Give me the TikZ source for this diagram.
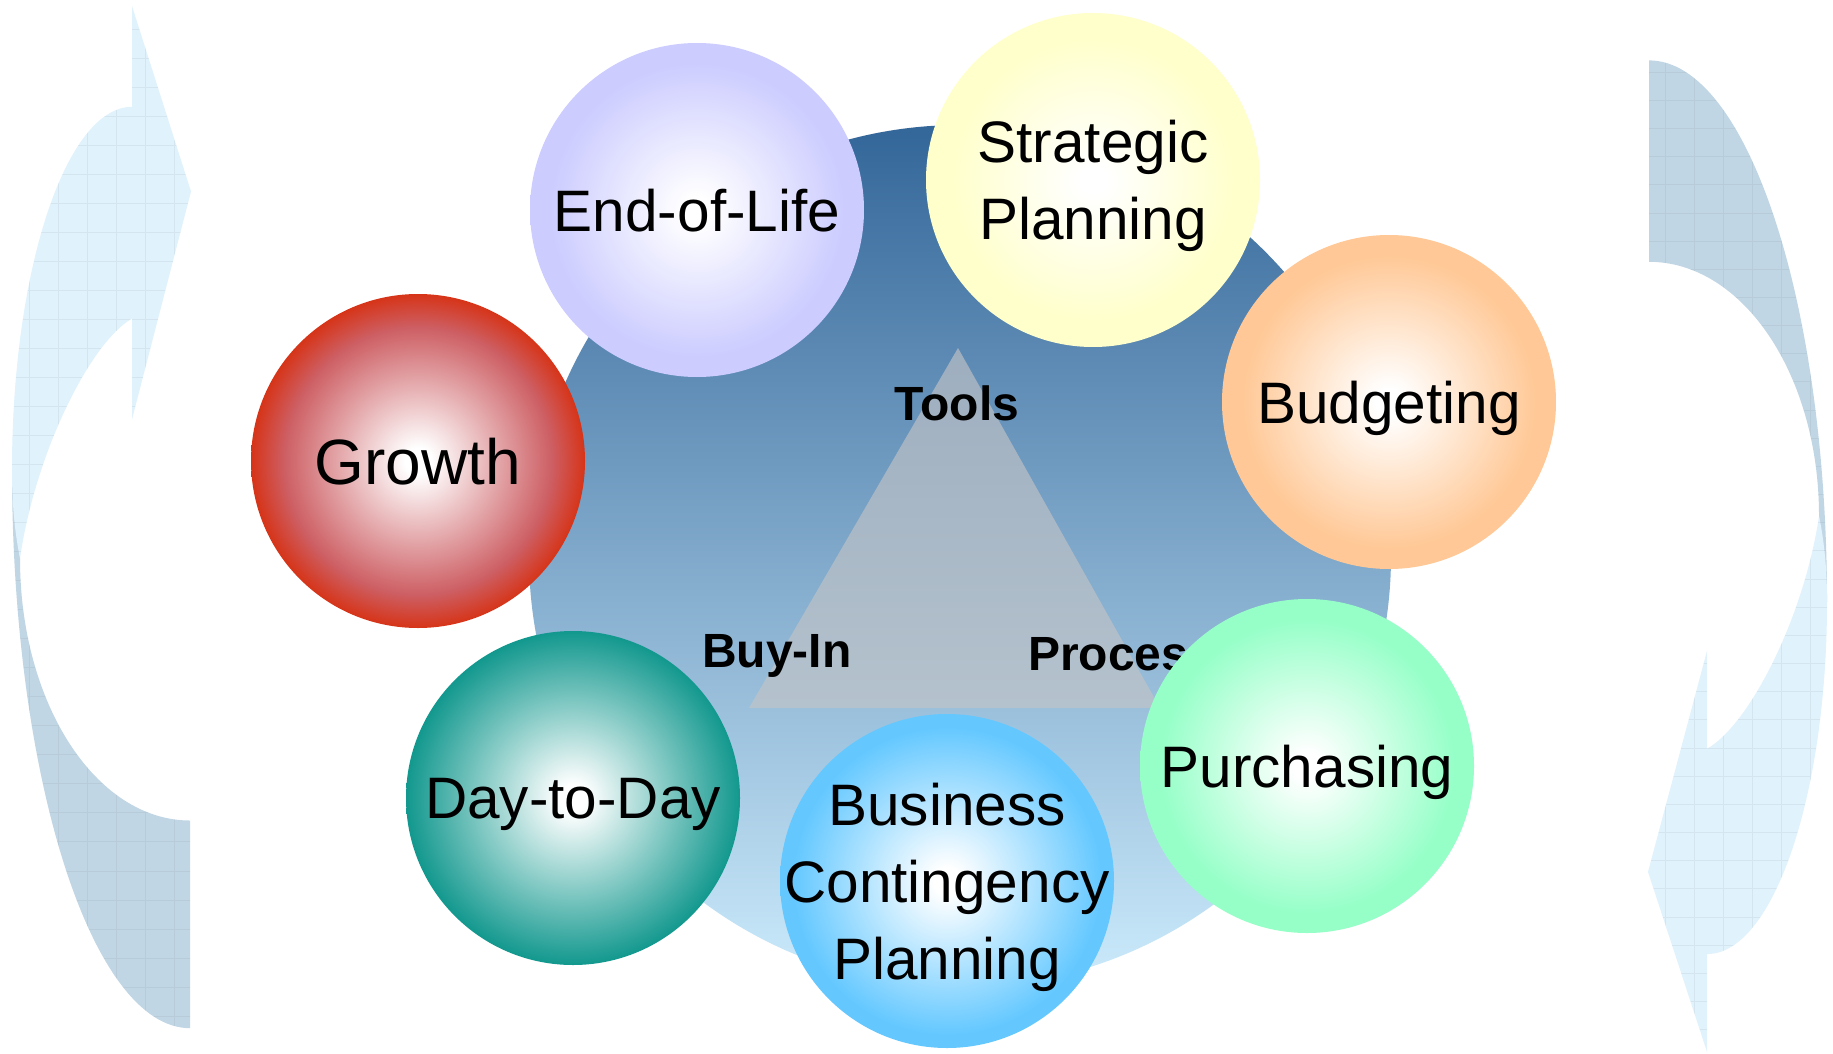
\documentclass[tikz,border=0pt]{standalone}
\usepackage{fontspec}
\setmainfont{Liberation Sans}
\definecolor{bgtop}{RGB}{51,102,153}
\definecolor{bgbot}{RGB}{204,235,252}
\definecolor{arrdark}{RGB}{193,214,228}
\definecolor{arrlight}{RGB}{224,242,252}
\definecolor{trigray}{RGB}{196,196,198}
\definecolor{cGrowth}{RGB}{214,52,24}
\definecolor{cGrowthMid}{RGB}{205,95,100}
\definecolor{cDay}{RGB}{18,152,142}
\definecolor{cBiz}{RGB}{100,200,255}
\definecolor{cPurch}{RGB}{150,255,200}
\definecolor{cBudget}{RGB}{255,200,150}
\definecolor{cEnd}{RGB}{204,204,255}
\definecolor{cStrat}{RGB}{255,255,204}
\pgfdeclareradialshading{shGrowth}{\pgfpoint{0bp}{0bp}}{color(0bp)=(white); color(2bp)=(white); color(20bp)=(cGrowthMid); color(25bp)=(cGrowth); color(50bp)=(cGrowth)}
\pgfdeclareradialshading{shDay}{\pgfpoint{0bp}{0bp}}{color(0bp)=(white); color(2bp)=(white); color(25bp)=(cDay); color(50bp)=(cDay)}
\pgfdeclareradialshading{shBiz}{\pgfpoint{0bp}{0bp}}{color(0bp)=(white); color(2bp)=(white); color(23bp)=(cBiz); color(50bp)=(cBiz)}
\pgfdeclareradialshading{shPurch}{\pgfpoint{0bp}{0bp}}{color(0bp)=(white); color(2bp)=(white); color(22bp)=(cPurch); color(50bp)=(cPurch)}
\pgfdeclareradialshading{shBudget}{\pgfpoint{0bp}{0bp}}{color(0bp)=(white); color(2bp)=(white); color(22bp)=(cBudget); color(50bp)=(cBudget)}
\pgfdeclareradialshading{shEnd}{\pgfpoint{0bp}{0bp}}{color(0bp)=(white); color(2bp)=(white); color(22bp)=(cEnd); color(50bp)=(cEnd)}
\pgfdeclareradialshading{shStrat}{\pgfpoint{0bp}{0bp}}{color(0bp)=(white); color(2bp)=(white); color(21bp)=(cStrat); color(50bp)=(cStrat)}
\newcommand\darkband{(12,233) .. controls (12,386) and (92,510) .. (190,510) -- (190,407) .. controls (96,407) and (20,349) .. (20,277) -- cycle}
\newcommand\lightband{(20,277) .. controls (14,262) and (12,248) .. (12,233) .. controls (12,134) and (66,53) .. (132,53) -- (132,3) -- (191,95) -- (132,208) -- (132,158) .. controls (90,170) and (35,225) .. (20,277) -- cycle}
\newcommand\cyclearrow{%
  \fill[arrdark] \darkband;
  \begin{scope}\clip \darkband;
    \draw[gridln, xstep=29pt, ystep=14.4pt] (-17,520) grid (200,0);
  \end{scope}
  \fill[arrlight] \lightband;
  \begin{scope}\clip \lightband;
    \draw[gridln, xstep=29pt, ystep=14.4pt] (-17,520) grid (200,0);
  \end{scope}}
\begin{document}
\begin{tikzpicture}[x=1pt,y=-1pt,
  gridln/.style={black, opacity=0.05, line width=0.8pt},
  bubbletext/.style={inner sep=0pt, text=black, font=\fontsize{58.5}{77}\selectfont, text depth=-7pt},
  bubble/.style={bubbletext, circle, minimum size=334pt},
  multiline/.style={bubbletext, align=center},
  trilabel/.style={font=\bfseries\fontsize{48}{56}\selectfont, text=black, inner sep=0pt}]
\useasboundingbox (0,0) rectangle (1833,1054);
\fill[white] (0,0) rectangle (1833,1054);
% side cycle arrows
\begin{scope}[yscale=2.016]
  \cyclearrow
\end{scope}
\begin{scope}[shift={(1839,1057.7)}, xscale=-1, yscale=-1.9555]
  \cyclearrow
\end{scope}
% hub disc
\node[circle, minimum size=862pt, inner sep=0pt, top color=bgtop, bottom color=bgbot] (hub) at (960,556) {};
% triangle
\fill[trigray, opacity=0.64] (958,348) -- (749,708) -- (1160,708) -- cycle;
\node[trilabel, anchor=base] (tools) at (957,420) {Tools};
\node[trilabel, anchor=base west] (buyin) at (702,667) {Buy-In};
\node[trilabel, anchor=base west] (process) at (1028,670) {Process};
% bubbles
\node[bubble, shading=shEnd] (eol) at (697,210) {End-of-Life};
\node[bubble, shading=shStrat] (strat) at (1093,180) {};
\node[multiline] (stratlabel) at (strat.center) {Strategic\\Planning};
\node[bubble, shading=shBudget] (budget) at (1389,402) {Budgeting};
\node[bubble, shading=shGrowth, font=\fontsize{64}{77}\selectfont] (growth) at (418,461) {Growth};
\node[bubble, shading=shDay] (day) at (573,798) {Day-to-Day};
\node[bubble, shading=shBiz] (bcp) at (947,881) {};
\node[multiline] (bcplabel) at (bcp.center) {Business\\Contingency\\Planning};
\node[bubble, shading=shPurch] (purch) at (1307,766) {Purchasing};
\end{tikzpicture}
\end{document}
